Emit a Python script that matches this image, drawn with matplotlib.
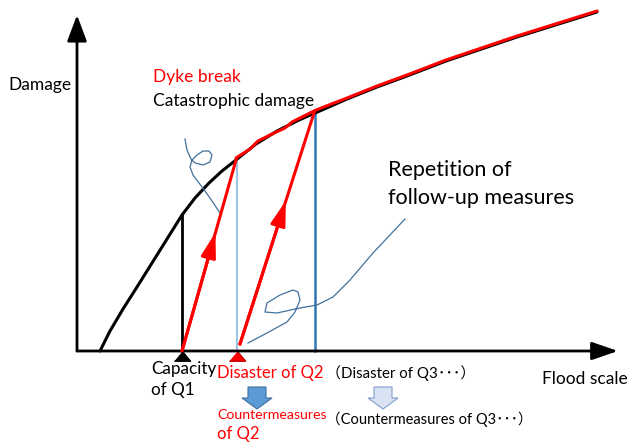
import numpy as np
import matplotlib.pyplot as plt

plt.rcParams['font.family'] = ['Lato', 'Noto Sans CJK JP', 'DejaVu Sans']

# damage curve (flood scale -> damage)
curve_x = [23, 33, 46, 60, 75, 90, 105, 118, 132, 145, 159, 179, 200, 222, 245, 270, 300, 330, 369, 440, 520]
curve_y = [0, 20, 42, 64, 88, 112, 136, 153, 168, 180, 191, 207, 220, 231, 241, 252, 264, 275, 290, 314, 339]

# red "dyke break" trace along the upper part of the curve
dyke_x = [159, 173, 181, 193, 208, 215, 223, 239, 270, 300, 330, 369, 440, 520]
dyke_y = [193, 202, 210, 216, 223, 229, 233, 241, 253, 265, 276, 291, 315, 340]

# capacities / disaster scales
q1_x, q1_y = 105, 137
q2_x, q2_y = 160, 191
q3_x, q3_y = 238, 238

# red follow-up arrows (start, end)
rise1 = [(105, 0), (159, 191)]
rise2 = [(163, 7), (237, 238)]

# hand-drawn blue scribbles
scrib1_x = [108, 110, 114, 118, 126, 133, 135, 132, 126, 120, 115, 113, 116, 125, 133, 143]
scrib1_y = [212, 201, 192, 188, 186, 189, 196, 200, 200, 196, 191, 184, 176, 164, 153, 138]
scrib2_x = [171, 190, 210, 218, 223, 221, 216, 203, 190, 188, 200, 223, 240, 256, 273, 296, 328]
scrib2_y = [8, 18, 29, 39, 51, 59, 61, 56, 48, 39, 38, 43, 46, 54, 71, 98, 132]

x_max, y_max = 541, 336

fig = plt.figure(figsize=(6.29, 4.42), dpi=100)
ax = fig.add_axes([0, 0, 1, 1])
ax.set_xlim(-77, 552)
ax.set_ylim(-91, 351)
ax.axis('off')

# axes with arrow heads
ax.annotate('', xy=(x_max, 0), xytext=(0, 0),
            arrowprops=dict(arrowstyle='-|>,head_length=1.6,head_width=0.55',
                            color='black', lw=2, shrinkA=0, shrinkB=0))
ax.annotate('', xy=(0, y_max), xytext=(0, 0),
            arrowprops=dict(arrowstyle='-|>,head_length=1.6,head_width=0.6',
                            color='black', lw=2, shrinkA=0, shrinkB=0))

# vertical guide lines
ax.plot([q1_x, q1_x], [0, q1_y], color='black', lw=2)
ax.plot([q2_x, q2_x], [0, q2_y], color='#9dc3e6', lw=1.5)
ax.plot([q3_x, q3_x], [0, q3_y], color='#2e75b6', lw=1.8)

# curves
ax.plot(curve_x, curve_y, color='black', lw=2.2, solid_capstyle='round', solid_joinstyle='round')
ax.plot(dyke_x, dyke_y, color='#ff0000', lw=2.2, solid_capstyle='round', solid_joinstyle='round')

# scribbles
ax.plot(scrib1_x, scrib1_y, color='#41719c', lw=0.9, solid_joinstyle='round')
ax.plot(scrib2_x, scrib2_y, color='#41719c', lw=0.9, solid_joinstyle='round')

# red arrows with mid heads
for (x0, y0), (x1, y1) in (rise1, rise2):
    ax.plot([x0, x1], [y0, y1], color='#ff0000', lw=2.2)
    xm, ym = x0 + 0.62 * (x1 - x0), y0 + 0.62 * (y1 - y0)
    ax.annotate('', xy=(xm, ym), xytext=(x0, y0),
                arrowprops=dict(arrowstyle='-|>,head_length=1.5,head_width=0.45',
                                color='#ff0000', lw=2.2, shrinkA=0, shrinkB=0))

# triangle markers at capacities
tri = [(-1, -1.2), (1, -1.2), (0, 0)]
ax.plot(q1_x, 0, marker=tri, ms=14, color='black', ls='none')
ax.plot(q2_x, 0, marker=tri, ms=14, color='#ff0000', mec='#c00000', ls='none')

# down block arrows
ax.arrow(180, -36, 0, -22, width=18, head_width=30, head_length=11,
         length_includes_head=True, fc='#5b9bd5', ec='#41719c', lw=0.8)
ax.arrow(306, -36, 0, -22, width=18, head_width=30, head_length=11,
         length_includes_head=True, fc='#dae3f3', ec='#7f9fcf', lw=0.8)

# labels
ax.text(-69, 266, 'Damage', fontsize=12.5, va='center')
ax.text(76, 274, 'Dyke break', fontsize=12.5, color='#ff0000', va='center')
ax.text(76, 250, 'Catastrophic damage', fontsize=12.5, va='center')
ax.text(311, 181, 'Repetition of', fontsize=15.5, va='center')
ax.text(311, 153, 'follow-up measures', fontsize=15.5, va='center')
ax.text(465, -28, 'Flood scale', fontsize=12.5, va='center')
ax.text(74, -18, 'Capacity', fontsize=12.3, va='center')
ax.text(74, -39, 'of Q1', fontsize=12.3, va='center')
ax.text(140, -22, 'Disaster of Q2', fontsize=12, color='#ff0000', va='center')
ax.text(249, -22, '（Disaster of Q3･･･）', fontsize=10.8, va='center')
ax.text(140, -64, 'Countermeasures', fontsize=10.2, color='#ff0000', va='center')
ax.text(140, -83, 'of Q2', fontsize=12, color='#ff0000', va='center')
ax.text(249, -68, '（Countermeasures of Q3･･･）', fontsize=10.5, va='center')

fig.savefig('out.png', dpi=100)
